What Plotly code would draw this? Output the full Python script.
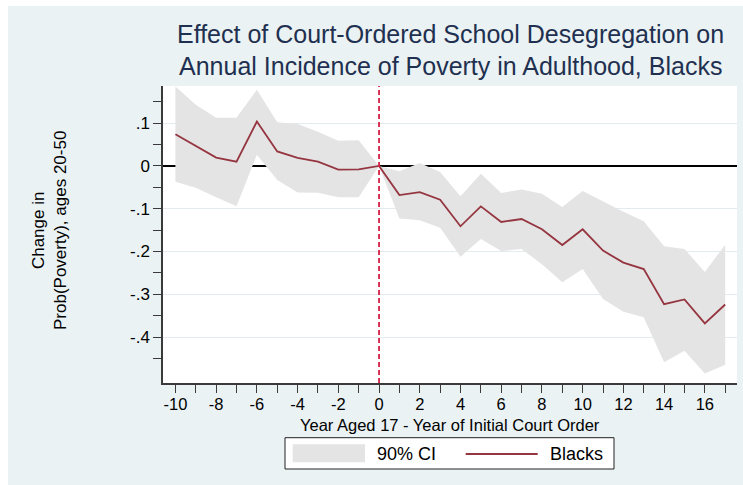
import plotly.graph_objects as go

# Event-study estimates: effect on annual poverty incidence, by years relative to court order
years = list(range(-10, 18))
estimate = [0.074, 0.046, 0.0195, 0.010, 0.104, 0.034, 0.019, 0.010, -0.0086, -0.0078,
            0.0,
            -0.068, -0.061, -0.079, -0.141, -0.0945, -0.131, -0.124, -0.148, -0.185, -0.148,
            -0.198, -0.226, -0.241, -0.323, -0.312, -0.368, -0.324]
ci_upper = [0.186, 0.143, 0.113, 0.113, 0.178, 0.102, 0.098, 0.080, 0.059, 0.060,
            0.0,
            -0.0125, 0.007, -0.014, -0.071, -0.018, -0.063, -0.055, -0.065, -0.096, -0.0586,
            -0.083, -0.107, -0.129, -0.1875, -0.194, -0.248, -0.184]
ci_lower = [-0.037, -0.051, -0.073, -0.094, 0.026, -0.033, -0.062, -0.0625, -0.073, -0.073,
            0.0,
            -0.123, -0.127, -0.1445, -0.212, -0.171, -0.199, -0.194, -0.230, -0.272, -0.241,
            -0.311, -0.341, -0.354, -0.459, -0.432, -0.485, -0.465]

y_tick_vals = [0.1, 0.0, -0.1, -0.2, -0.3, -0.4]
y_tick_text = [".1", "0", "-.1", "-.2", "-.3", "-.4"]
y_minor_vals = [0.15, 0.05, -0.05, -0.15, -0.25, -0.35, -0.45]
x_tick_vals = list(range(-10, 17, 2))
x_tick_text = [str(v) for v in x_tick_vals]
x_minor_vals = list(range(-9, 18, 2))

title_lines = ["Effect of Court-Ordered School Desegregation on",
               "Annual Incidence of Poverty in Adulthood, Blacks"]
x_title = "Year Aged 17 - Year of Initial Court Order"
y_title = "Change in<br>Prob(Poverty), ages 20-50"
ci_name = "90% CI"
series_name = "Blacks"

# Styling
FONT = "Liberation Sans, Arial, sans-serif"
BG = "#EAF2F3"
BAND = "#E4E4E4"
LINE = "#953540"
NAVY = "#1f3050"
AXIS = "#3a3a3a"

W, H = 743, 485
L, R, T, B = 163, 6, 86, 102
PW = W - L - R
PH = H - T - B


def px(x):
    return (x - L) / PW


def py(y):
    return (H - B - y) / PH


fig = go.Figure()
fig.add_trace(go.Scatter(x=years, y=ci_lower, mode="lines", line=dict(width=0),
                         showlegend=False, hoverinfo="skip"))
fig.add_trace(go.Scatter(x=years, y=ci_upper, mode="lines", line=dict(width=0),
                         fill="tonexty", fillcolor=BAND, name=ci_name, showlegend=False))
fig.add_trace(go.Scatter(x=years, y=estimate, mode="lines",
                         line=dict(color=LINE, width=1.8), name=series_name, showlegend=False))

shapes = [
    # graph region and plot region backgrounds
    dict(type="rect", xref="paper", yref="paper", x0=px(8), x1=px(W + 2), y0=py(6), y1=py(H + 2),
         fillcolor=BG, line=dict(width=0), layer="below"),
    dict(type="rect", xref="paper", yref="paper", x0=0, x1=1, y0=0, y1=1,
         fillcolor="white", line=dict(width=0), layer="below"),
    # reference line at the year of the court order
    dict(type="line", xref="x", yref="paper", x0=0, x1=0, y0=0, y1=1,
         line=dict(color="#D81E45", width=1.8, dash="5px,3px"), layer="above"),
    # legend box
    dict(type="rect", xref="paper", yref="paper", x0=px(285), x1=px(614), y0=py(469), y1=py(437.7),
         fillcolor="white", line=dict(color="#222222", width=1)),
    dict(type="rect", xref="paper", yref="paper", x0=px(292.7), x1=px(365), y0=py(462.3), y1=py(444.3),
         fillcolor=BAND, line=dict(width=0)),
    dict(type="line", xref="paper", yref="paper", x0=px(465.7), x1=px(537.7), y0=py(454), y1=py(454),
         line=dict(color=LINE, width=1.8)),
]

annotations = [
    dict(text=title_lines[0], xref="paper", yref="paper", x=0.5, y=py(34.5), xanchor="center",
         yanchor="middle", showarrow=False, font=dict(family=FONT, size=25, color=NAVY)),
    dict(text=title_lines[1], xref="paper", yref="paper", x=0.5, y=py(65.5), xanchor="center",
         yanchor="middle", showarrow=False, font=dict(family=FONT, size=25, color=NAVY)),
    dict(text=y_title, xref="paper", yref="paper", x=px(49), y=py(231), xanchor="center",
         yanchor="middle", textangle=-90, showarrow=False,
         font=dict(family=FONT, size=17, color="black")),
    dict(text=x_title, xref="paper", yref="paper", x=0.5, y=py(424.5), xanchor="center",
         yanchor="middle", showarrow=False, font=dict(family=FONT, size=16.5, color="black")),
    dict(text=ci_name, xref="paper", yref="paper", x=px(375), y=py(454), xanchor="left",
         yanchor="middle", showarrow=False, font=dict(family=FONT, size=18, color="black")),
    dict(text=series_name, xref="paper", yref="paper", x=px(548), y=py(454), xanchor="left",
         yanchor="middle", showarrow=False, font=dict(family=FONT, size=18, color="black")),
]

fig.update_layout(
    width=W, height=H,
    margin=dict(l=L, r=R, t=T, b=B, pad=0),
    paper_bgcolor="white", plot_bgcolor="white",
    font=dict(family=FONT, color="black"),
    shapes=shapes, annotations=annotations,
    showlegend=False,
    xaxis=dict(
        range=[-10.61, 17.58], tickmode="array", tickvals=x_tick_vals, ticktext=x_tick_text,
        ticks="outside", ticklen=8, tickwidth=1, tickcolor=AXIS,
        showline=True, linecolor=AXIS, linewidth=1.5,
        showgrid=False, zeroline=False,
        minor=dict(tickmode="array", tickvals=x_minor_vals, ticks="outside", ticklen=8,
                   tickwidth=1, tickcolor=AXIS, showgrid=False),
        tickfont=dict(family=FONT, size=16.5, color="black"),
        ticklabelstandoff=-3,
    ),
    yaxis=dict(
        range=[-0.5075, 0.187], tickmode="array", tickvals=y_tick_vals, ticktext=y_tick_text,
        ticks="outside", ticklen=8, tickwidth=1, tickcolor=AXIS,
        showline=True, linecolor=AXIS, linewidth=1.5,
        showgrid=True, gridcolor="#E3EBEE", gridwidth=1,
        zeroline=True, zerolinecolor="black", zerolinewidth=2,
        minor=dict(tickmode="array", tickvals=y_minor_vals, ticks="outside", ticklen=8,
                   tickwidth=1, tickcolor=AXIS, showgrid=False),
        tickfont=dict(family=FONT, size=17, color="black"),
    ),
)

fig.write_html("out.html")
